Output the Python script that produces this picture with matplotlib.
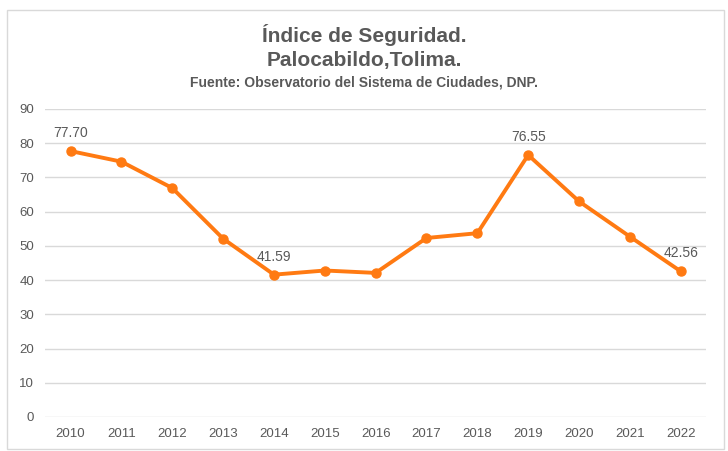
import matplotlib
matplotlib.use("Agg")
import matplotlib.pyplot as plt
from matplotlib.patches import Rectangle

years = ["2010", "2011", "2012", "2013", "2014", "2015", "2016",
         "2017", "2018", "2019", "2020", "2021", "2022"]
indice = [77.70, 74.6, 66.9, 52.1, 41.59, 42.8, 42.1,
          52.3, 53.7, 76.55, 63.0, 52.7, 42.56]
labelled = {0: "77.70", 4: "41.59", 9: "76.55", 12: "42.56"}

FONT = ["Liberation Sans Narrow", "Liberation Sans", "DejaVu Sans"]
plt.rcParams["font.family"] = FONT
GRAY = "#595959"
ORANGE = "#FF7A12"

fig = plt.figure(figsize=(7.28, 4.51), dpi=100)
fig.patches.append(Rectangle((0.009, 0.005), 0.985, 0.972, transform=fig.transFigure,
                             fill=False, edgecolor="#D9D9D9", linewidth=1))

ax = fig.add_axes([0.062, 0.0754, 0.908, 0.683])
x = list(range(len(years)))
ax.plot(x, indice, color=ORANGE, linewidth=2.8, marker="o", markersize=6.5, zorder=3)

for i, txt in labelled.items():
    ax.annotate(txt, (x[i], indice[i]), xytext=(0, 8), textcoords="offset points",
                ha="center", va="bottom", fontsize=10, color=GRAY)

ax.set_xlim(-0.5, len(years) - 0.5)
ax.set_ylim(0, 90)
ax.set_yticks(range(0, 91, 10))
ax.set_xticks(x)
ax.set_xticklabels(years)
ax.grid(axis="y", color="#D9D9D9", linewidth=1)
ax.set_axisbelow(True)
for s in ax.spines.values():
    s.set_visible(False)
ax.tick_params(length=0, labelsize=9.5, labelcolor=GRAY, pad=8)

fig.text(0.5, 0.923, "Índice de Seguridad.", ha="center", va="center",
         fontsize=15, fontweight="bold", color=GRAY)
fig.text(0.5, 0.866, "Palocabildo,Tolima.", ha="center", va="center",
         fontsize=15, fontweight="bold", color=GRAY)
fig.text(0.5, 0.818, "Fuente: Observatorio del Sistema de Ciudades, DNP.", ha="center",
         va="center", fontsize=10, fontweight="bold", color=GRAY)

fig.savefig("out.png", dpi=100)
